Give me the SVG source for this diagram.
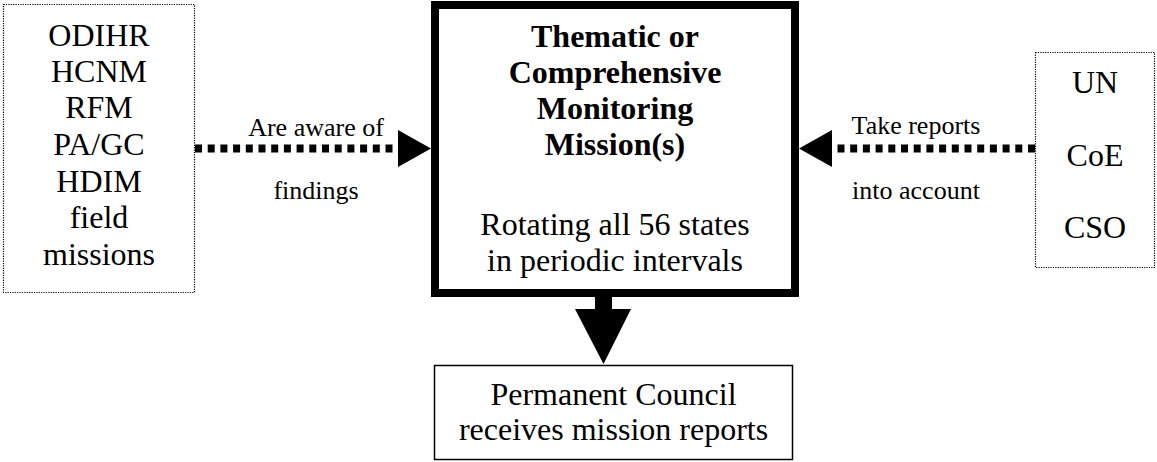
<svg xmlns="http://www.w3.org/2000/svg" width="1157" height="462" viewBox="0 0 1157 462">
<style>
text{fill:#000;text-anchor:middle}
.t{font-size:32px}
.b{font-size:32px;font-weight:bold}
.l{font-size:26px}
.dotbox{fill:#fff;stroke:#000;stroke-width:1.2;stroke-dasharray:1.2 1.2}
.dash{stroke:#000;stroke-width:8;stroke-dasharray:7 5.7;fill:none}
</style>
<rect width="1157" height="462" fill="#fff"/>
<g font-family="Liberation Serif, Tinos, Times New Roman, Times, DejaVu Serif, serif">
<g id="connectors">
<line class="dash" x1="195" y1="148.5" x2="398" y2="148.5"/>
<polygon points="398,130 431,148.5 398,167"/>
<line class="dash" x1="1035" y1="148.5" x2="832" y2="148.5"/>
<polygon points="832,130 799,148.5 832,167"/>
<rect x="595" y="297" width="17" height="12"/>
<polygon points="575,309 631,309 603.5,364"/>
<text class="l" x="316" y="136">Are aware of</text>
<text class="l" x="316" y="199">findings</text>
<text class="l" x="916" y="134">Take reports</text>
<text class="l" x="916" y="199">into account</text>
</g>
<g id="left-box">
<rect class="dotbox" x="3.5" y="4.5" width="191" height="288"/>
<text class="t" x="99" y="46">ODIHR</text>
<text class="t" x="99" y="82">HCNM</text>
<text class="t" x="99" y="118">RFM</text>
<text class="t" x="99" y="155">PA/GC</text>
<text class="t" x="99" y="192">HDIM</text>
<text class="t" x="99" y="228">field</text>
<text class="t" x="99" y="265">missions</text>
</g>
<g id="main-box">
<rect x="435" y="5" width="360" height="288" fill="#fff" stroke="#000" stroke-width="8"/>
<text class="b" x="615" y="47">Thematic or</text>
<text class="b" x="615" y="83">Comprehensive</text>
<text class="b" x="615" y="119">Monitoring</text>
<text class="b" x="615" y="155">Mission(s)</text>
<text class="t" x="615" y="235">Rotating all 56 states</text>
<text class="t" x="615" y="271">in periodic intervals</text>
</g>
<g id="right-box">
<rect class="dotbox" x="1035.5" y="52.5" width="119" height="215"/>
<text class="t" x="1095" y="93">UN</text>
<text class="t" x="1095" y="166">CoE</text>
<text class="t" x="1095" y="238">CSO</text>
</g>
<g id="bottom-box">
<rect x="434.5" y="365.5" width="358" height="94" fill="#fff" stroke="#000" stroke-width="1.5"/>
<text class="t" x="613.5" y="405">Permanent Council</text>
<text class="t" x="613.5" y="440">receives mission reports</text>
</g>
</g>
</svg>
